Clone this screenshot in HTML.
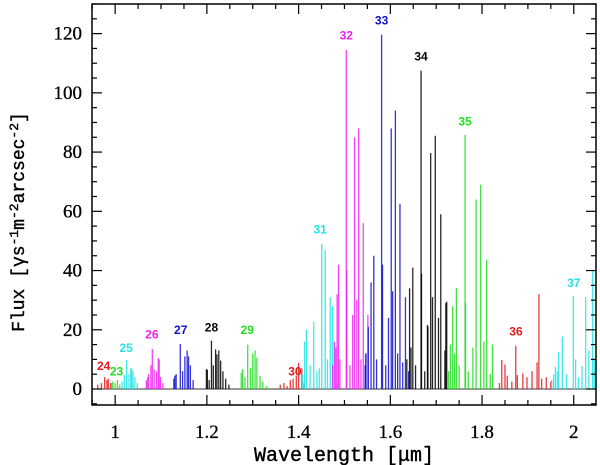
<!DOCTYPE html>
<html><head><meta charset="utf-8">
<style>
html,body{margin:0;padding:0;background:#fff;}
svg{display:block;}
text{font-family:"Liberation Serif",serif;}
</style></head>
<body>
<svg id="chart" width="600" height="465" viewBox="0 0 600 465" xmlns="http://www.w3.org/2000/svg">
<g id="marks"></g>
<g id="axes"></g>
<g id="labels"></g>
</svg>
<script>
// ---- data ----
const xTicks = [1, 1.2, 1.4, 1.6, 1.8, 2];
const xTickLabels = ["1", "1.2", "1.4", "1.6", "1.8", "2"];
const yTicks = [0, 20, 40, 60, 80, 100, 120];
const yTickLabels = ["0", "20", "40", "60", "80", "100", "120"];

const band24W = [0.962, 0.970, 0.977, 0.982, 0.985, 0.990];
const band24F = [1.5, 2.0, 4.0, 3.0, 3.5, 2.0];
const band23W = [0.992, 0.995, 1.000, 1.005, 1.010];
const band23F = [2.0, 2.5, 2.0, 3.0, 1.5];
const band25W = [1.015, 1.020, 1.025, 1.030, 1.034, 1.036, 1.039, 1.043, 1.048];
const band25F = [2.5, 4.7, 9.8, 5.0, 7.0, 7.0, 6.0, 4.0, 2.0];
const band26W = [1.068, 1.071, 1.073, 1.078, 1.081, 1.085, 1.090, 1.094, 1.096, 1.099, 1.104];
const band26F = [3.0, 4.0, 5.0, 8.0, 13.5, 6.7, 6.0, 10.4, 10.0, 4.0, 2.0];
const band27W = [1.128, 1.130, 1.133, 1.142, 1.147, 1.152, 1.157, 1.160, 1.164, 1.170];
const band27F = [3.5, 4.5, 5.0, 15.2, 6.0, 11.0, 13.0, 11.0, 8.0, 3.0];
const band28W = [1.199, 1.201, 1.205, 1.210, 1.214, 1.219, 1.222, 1.226, 1.230, 1.235, 1.241, 1.248];
const band28F = [6.7, 6.5, 3.0, 16.3, 8.0, 13.4, 11.7, 13.0, 9.6, 6.0, 3.5, 1.5];
const band29W = [1.275, 1.278, 1.283, 1.289, 1.295, 1.300, 1.305, 1.309, 1.316, 1.322, 1.330];
const band29F = [5.5, 6.7, 4.0, 15.0, 7.0, 12.0, 13.0, 10.6, 4.5, 2.5, 1.0];
const band30W = [1.360, 1.368, 1.375, 1.382, 1.388, 1.395, 1.400, 1.407, 1.412];
const band30F = [1.5, 2.0, 1.0, 3.0, 3.5, 4.5, 8.8, 7.0, 2.0];
const band31W = [1.408, 1.413, 1.417, 1.425, 1.433, 1.440, 1.445, 1.4505, 1.458, 1.463, 1.469, 1.474];
const band31F = [5.0, 16.0, 20.0, 8.0, 22.7, 6.0, 7.0, 49.0, 47.0, 10.0, 31.0, 28.0];
const band32W = [1.474, 1.478, 1.481, 1.484, 1.487, 1.490, 1.504, 1.505, 1.512, 1.518, 1.522, 1.527, 1.531, 1.536, 1.541, 1.546, 1.551];
const band32F = [8.0, 16.0, 14.0, 32.0, 42.0, 10.0, 114.5, 40.0, 8.0, 25.0, 85.0, 30.0, 88.0, 10.0, 56.0, 12.0, 25.0];
const band33W = [1.545, 1.547, 1.552, 1.558, 1.564, 1.570, 1.581, 1.583, 1.590, 1.596, 1.602, 1.605, 1.611, 1.616, 1.621, 1.627, 1.633, 1.640];
const band33F = [8.0, 12.0, 21.0, 36.0, 45.0, 10.0, 119.6, 42.0, 8.0, 24.0, 88.0, 33.0, 94.0, 12.0, 62.5, 9.0, 31.0, 6.0];
const band34W = [1.636, 1.642, 1.645, 1.649, 1.655, 1.667, 1.668, 1.675, 1.681, 1.682, 1.688, 1.692, 1.698, 1.705, 1.710, 1.719, 1.721, 1.723];
const band34F = [10.0, 34.0, 14.0, 41.0, 8.0, 107.5, 39.0, 6.0, 21.6, 21.0, 79.7, 31.0, 85.5, 24.0, 59.0, 13.0, 29.0, 29.5];
const band35W = [1.727, 1.731, 1.736, 1.740, 1.744, 1.750, 1.763, 1.764, 1.770, 1.780, 1.787, 1.797, 1.804, 1.810, 1.818, 1.823];
const band35F = [6.0, 15.0, 28.0, 12.0, 34.0, 8.0, 85.8, 29.0, 6.0, 14.0, 64.0, 69.0, 16.0, 43.6, 5.0, 15.0];
const band36W = [1.838, 1.843, 1.850, 1.855, 1.865, 1.8735, 1.877, 1.889, 1.898, 1.909, 1.920, 1.924, 1.930, 1.940, 1.950];
const band36F = [2.0, 9.8, 8.3, 4.5, 2.5, 14.6, 4.7, 5.3, 4.0, 6.0, 9.0, 32.0, 3.5, 4.0, 2.5];
const band37W = [1.952, 1.956, 1.960, 1.964, 1.967, 1.975, 1.984, 1.999, 2.004, 2.010, 2.018, 2.026, 2.033, 2.041, 2.045];
const band37F = [3.0, 5.0, 7.5, 6.0, 12.5, 17.7, 5.0, 31.4, 10.0, 4.0, 7.7, 31.0, 13.0, 40.0, 10.0];

const bandNames = ["24","23","25","26","27","28","29","30","31","32","33","34","35","36","37"];
const bandLabelW = [0.975, 1.003, 1.024, 1.080, 1.143, 1.210, 1.288, 1.392, 1.447, 1.504, 1.581, 1.667, 1.763, 1.874, 2.000];
const bandLabelF = [6.5, 4.5, 12.5, 17.0, 18.5, 19.5, 18.5, 4.5, 52.5, 118.0, 123.0, 111.0, 89.0, 18.0, 34.5];
const bandColors = ["#e41a1c","#22dd22","#22e4e4","#ee22ee","#1010cc","#000000","#22dd22","#e41a1c","#22e4e4","#ee22ee","#1010cc","#000000","#22dd22","#e41a1c","#22e4e4"];
const bandW = [band24W,band23W,band25W,band26W,band27W,band28W,band29W,band30W,band31W,band32W,band33W,band34W,band35W,band36W,band37W];
const bandF = [band24F,band23F,band25F,band26F,band27F,band28F,band29F,band30F,band31F,band32F,band33F,band34F,band35F,band36F,band37F];

// ---- scales ----
const L = 92, R = 596, T = 4, B = 405;
const xMin = 0.9495, xMax = 2.0485, yMin = -5.4, yMax = 130;
function sx(w){ return L + (w - xMin) / (xMax - xMin) * (R - L); }
function sy(f){ return B - (f - yMin) / (yMax - yMin) * (B - T); }
const NS = "http://www.w3.org/2000/svg";
function mk(tag, attrs, parent){
  const e = document.createElementNS(NS, tag);
  for (const k in attrs) e.setAttribute(k, attrs[k]);
  parent.appendChild(e);
  return e;
}
const marks = document.getElementById('marks');
const axes = document.getElementById('axes');
const labels = document.getElementById('labels');

const base = mk('line', {x1:L, x2:R, y1:sy(0), y2:sy(0), stroke:'#333', 'stroke-width':1}, marks);



for (let b = 0; b < bandW.length; b++) {
  const g = mk('g', {}, marks);
  
  
  for (let i = 0; i < bandW[b].length; i++) {
    const x = sx(bandW[b][i]);
    if (x < L || x > R) continue;
    const ln = mk('line', {x1:x, x2:x, y1:sy(0), y2:sy(bandF[b][i]), stroke:bandColors[b], 'stroke-width':1.3, 'stroke-opacity':0.85}, g);
    
    
  }
  const t = mk('text', {x:sx(bandLabelW[b]), y:sy(bandLabelF[b]), fill:bandColors[b], 'font-size':12, 'font-weight':'bold', 'text-anchor':'middle', style:'font-family:"Liberation Sans",sans-serif'}, labels);
  t.textContent = bandNames[b];
  
  
}

const frame = mk('rect', {x:L, y:T, width:R-L, height:B-T, fill:'none', stroke:'#000', 'stroke-width':1.5}, axes);



for (let w = 0.95; w <= 2.05; w += 0.05) {
  const x = sx(w);
  const major = Math.abs(w*5 - Math.round(w*5)) < 1e-6;
  const len = major ? 10 : 5;
  mk('line', {x1:x, x2:x, y1:B, y2:B-len, stroke:'#000', 'stroke-width':1.2}, axes);
  mk('line', {x1:x, x2:x, y1:T, y2:T+len, stroke:'#000', 'stroke-width':1.2}, axes);
}
for (let i = 0; i < xTicks.length; i++) {
  const t = mk('text', {x:sx(xTicks[i]), y:438, 'font-size':19, 'text-anchor':'middle', fill:'#000', stroke:'#000', 'stroke-width':0.3}, axes);
  t.textContent = xTickLabels[i];
  
  
}
for (let f = -5; f <= 130; f += 5) {
  const y = sy(f);
  if (y < T || y > B) continue;
  const len = (f % 20 === 0) ? 10 : 5;
  mk('line', {x1:L, x2:L+len, y1:y, y2:y, stroke:'#000', 'stroke-width':1.2}, axes);
  mk('line', {x1:R, x2:R-len, y1:y, y2:y, stroke:'#000', 'stroke-width':1.2}, axes);
}
for (let i = 0; i < yTicks.length; i++) {
  const t = mk('text', {x:82, y:sy(yTicks[i]) + 6, 'font-size':19, 'text-anchor':'end', fill:'#000', stroke:'#000', 'stroke-width':0.3}, axes);
  t.textContent = yTickLabels[i];
  
  
}
const xt = mk('text', {x:344, y:461, 'font-size':20, 'text-anchor':'middle', fill:'#000', stroke:'#000', 'stroke-width':0.4, style:'font-family:"Liberation Mono",monospace'}, axes);
xt.textContent = 'Wavelength [\u03bcm]';


const yt = mk('text', {x:0, y:0, 'font-size':18, 'text-anchor':'middle', fill:'#000', stroke:'#000', 'stroke-width':0.4, transform:'translate(24,222) rotate(-90)', style:'font-family:"Liberation Mono",monospace'}, axes);
yt.innerHTML = 'Flux [\u03b3s<tspan dy="-6" font-size="13">-1</tspan><tspan dy="6">m</tspan><tspan dy="-6" font-size="13">-2</tspan><tspan dy="6">arcsec</tspan><tspan dy="-6" font-size="13">-2</tspan><tspan dy="6">]</tspan>';


</script>
</body></html>
